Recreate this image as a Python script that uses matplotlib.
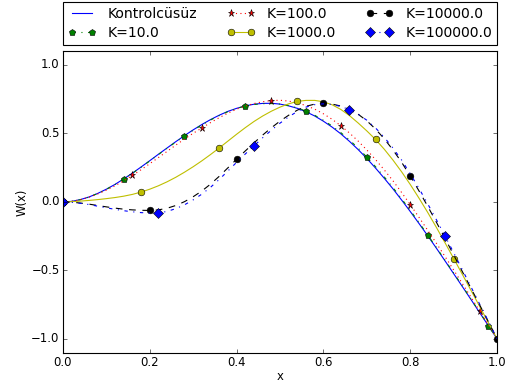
import matplotlib
matplotlib.use('Agg')
import matplotlib.pyplot as plt
import numpy as np

plt.style.use('classic')
plt.rcParams['font.size'] = 10.5
plt.rcParams['xtick.major.pad'] = 3
plt.rcParams['ytick.major.pad'] = 3

x = np.linspace(0.0, 1.0, 51)

kontrolcusuz = [0.000, 0.004, 0.017, 0.036, 0.062, 0.093, 0.128, 0.168, 0.210, 0.255, 0.301,
                0.348, 0.394, 0.440, 0.484, 0.526, 0.565, 0.601, 0.633, 0.661, 0.683,
                0.701, 0.713, 0.719, 0.720, 0.714, 0.701, 0.683, 0.658, 0.627, 0.589,
                0.546, 0.497, 0.442, 0.382, 0.317, 0.247, 0.173, 0.096, 0.014, -0.070,
                -0.157, -0.246, -0.337, -0.430, -0.524, -0.618, -0.713, -0.809, -0.904, -1.000]

k10 = [0.000, 0.004, 0.016, 0.036, 0.061, 0.092, 0.127, 0.167, 0.209, 0.253, 0.299,
       0.346, 0.392, 0.437, 0.481, 0.523, 0.562, 0.598, 0.630, 0.659, 0.682,
       0.700, 0.711, 0.717, 0.718, 0.714, 0.703, 0.686, 0.663, 0.632, 0.596,
       0.554, 0.506, 0.452, 0.392, 0.327, 0.257, 0.183, 0.105, 0.023, -0.062,
       -0.150, -0.240, -0.332, -0.425, -0.519, -0.614, -0.710, -0.806, -0.903, -1.000]

k100 = [0.000, 0.004, 0.016, 0.034, 0.058, 0.086, 0.118, 0.154, 0.193, 0.235, 0.279,
        0.324, 0.369, 0.415, 0.459, 0.501, 0.540, 0.579, 0.615, 0.648, 0.677,
        0.700, 0.718, 0.731, 0.740, 0.742, 0.736, 0.723, 0.703, 0.677, 0.643,
        0.603, 0.556, 0.503, 0.444, 0.379, 0.309, 0.234, 0.155, 0.069, -0.020,
        -0.112, -0.206, -0.301, -0.398, -0.497, -0.596, -0.696, -0.797, -0.898, -1.000]

k1000 = [0.000, 0.002, 0.006, 0.011, 0.017, 0.024, 0.032, 0.042, 0.055, 0.072, 0.093,
         0.118, 0.147, 0.180, 0.217, 0.257, 0.300, 0.346, 0.394, 0.444, 0.494,
         0.542, 0.587, 0.627, 0.662, 0.692, 0.716, 0.734, 0.741, 0.741, 0.731,
         0.709, 0.675, 0.630, 0.576, 0.518, 0.456, 0.385, 0.306, 0.220, 0.127,
         0.028, -0.076, -0.185, -0.298, -0.413, -0.529, -0.646, -0.764, -0.882, -1.000]

k10000 = [0.000, -0.002, -0.008, -0.016, -0.026, -0.036, -0.045, -0.053, -0.058, -0.061, -0.062,
          -0.058, -0.046, -0.026, 0.002, 0.038, 0.080, 0.130, 0.187, 0.249, 0.312,
          0.372, 0.431, 0.488, 0.541, 0.590, 0.633, 0.670, 0.698, 0.714, 0.719,
          0.714, 0.700, 0.676, 0.640, 0.592, 0.532, 0.461, 0.380, 0.290, 0.188,
          0.081, -0.031, -0.147, -0.266, -0.387, -0.509, -0.631, -0.753, -0.875, -1.000]

k100000 = [0.000, -0.003, -0.010, -0.019, -0.031, -0.043, -0.054, -0.064, -0.072, -0.078, -0.081,
           -0.081, -0.069, -0.049, -0.021, 0.015, 0.057, 0.107, 0.164, 0.226, 0.289,
           0.350, 0.409, 0.468, 0.523, 0.575, 0.621, 0.661, 0.692, 0.710, 0.716,
           0.711, 0.697, 0.673, 0.640, 0.596, 0.540, 0.472, 0.394, 0.306, 0.205,
           0.099, -0.013, -0.129, -0.248, -0.371, -0.496, -0.621, -0.747, -0.872, -1.000]

labels = ['Kontrolcüsüz', 'K=10.0', 'K=100.0', 'K=1000.0', 'K=10000.0', 'K=100000.0']

fig = plt.figure(figsize=(6.5, 4.8125), dpi=80)
ax = fig.add_axes([0.121, 0.084, 0.835, 0.783])

ax.plot(x, kontrolcusuz, 'b-', label=labels[0])
ax.plot(x, k10, 'g-.', marker='p', markevery=7, label=labels[1])
ax.plot(x, k100, 'r:', marker='*', markersize=6.5, markevery=8, label=labels[2])
ax.plot(x, k1000, 'y-', marker='o', markevery=9, label=labels[3])
ax.plot(x, k10000, 'k--', marker='o', markevery=10, label=labels[4])
ax.plot(x, k100000, 'b-.', marker='D', markevery=11, label=labels[5])

ax.set_xlim(0, 1)
ax.set_ylim(-1.1, 1.1)
ax.set_xlabel('x', labelpad=1)
ax.set_ylabel('W(x)', labelpad=2)
ax.legend(bbox_to_anchor=(0., 1.02, 1., .102), loc=3, ncol=3,
          mode="expand", borderaxespad=0., handlelength=2.0,
          handletextpad=0.85, labelspacing=0.4, borderpad=0.35)

fig.savefig('out.png', dpi=80)
